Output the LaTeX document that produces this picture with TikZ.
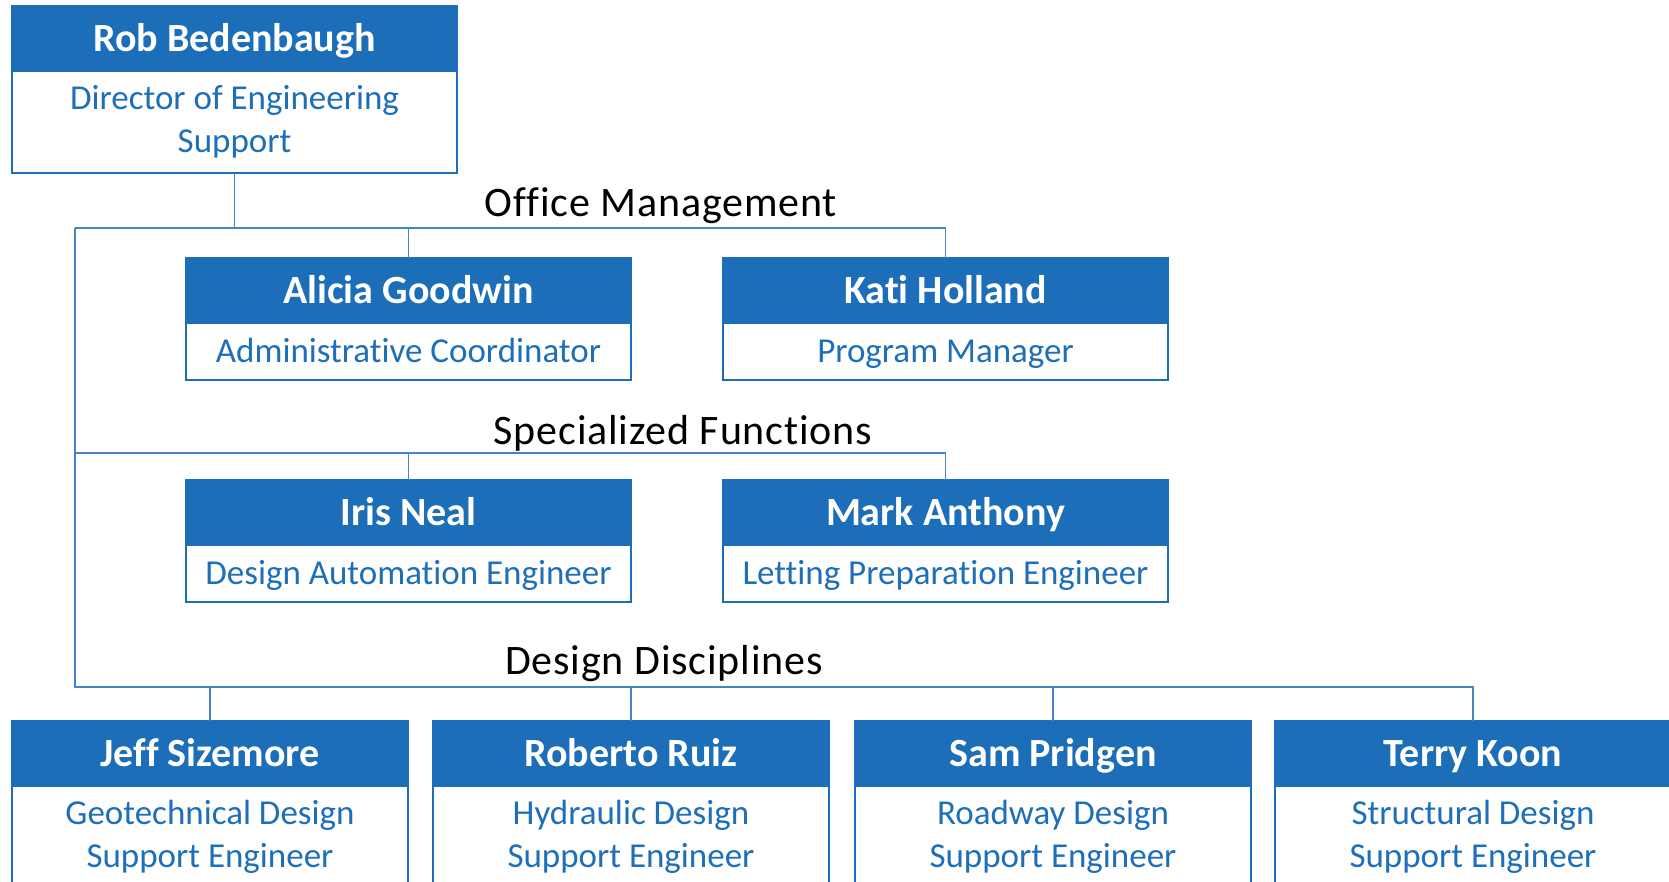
\documentclass[tikz,border=0pt]{standalone}
\usepackage{fontspec}
\setmainfont{Carlito}[Ligatures=NoCommon]
\newfontfamily\grouplabelfont[LetterSpace=2,Ligatures=NoCommon]{Carlito}
\usetikzlibrary{positioning}
\definecolor{headblue}{RGB}{27,110,183}
\definecolor{roleblue}{RGB}{30,111,186}
\definecolor{lineblue}{RGB}{70,132,198}

\begin{document}
\begin{tikzpicture}[x=1pt, y=-1pt,
  namebox/.style={rectangle, draw=headblue, fill=headblue, line width=2pt, text=white,
    font=\fontsize{40}{48}\selectfont\bfseries, minimum width=445pt, minimum height=65pt,
    inner sep=0pt, outer sep=0pt, text height=28pt, text depth=2.2pt},
  rolebox/.style={rectangle, draw=headblue, fill=white, line width=1.6pt, text=roleblue,
    font=\fontsize{35}{42.6}\selectfont, minimum width=445pt, minimum height=57pt,
    inner sep=0pt, outer sep=0pt, align=center},
  oneline/.style={text height=26pt, text depth=3.5pt},
  link/.style={draw=lineblue, line width=1.3pt},
  grouplabel/.style={font=\grouplabelfont\fontsize{42}{50}\selectfont, text=black, inner sep=0pt, anchor=base}]

  \clip (0,0) rectangle (1669,882);
  \useasboundingbox (0,0) rectangle (1669,882);

  % Director
  \node[namebox] (rob-name) at (234.5,38.5) {Rob Bedenbaugh};
  \node[rolebox, minimum height=102pt, below=0pt of rob-name] (rob-role) {Director of Engineering\\Support};

  % Office management
  \foreach \x/\id/\who/\job in {408.5/alicia/Alicia Goodwin/Administrative Coordinator,
                                945.5/kati/Kati Holland/Program Manager} {
    \node[namebox] (\id-name) at (\x,290.5) {\who};
    \node[rolebox, oneline, below=0pt of \id-name] (\id-role) {\job};
  }

  % Specialized functions
  \foreach \x/\id/\who/\job in {408.5/iris/Iris Neal/Design Automation Engineer,
                                945.5/mark/Mark Anthony/Letting Preparation Engineer} {
    \node[namebox] (\id-name) at (\x,512.5) {\who};
    \node[rolebox, oneline, below=0pt of \id-name] (\id-role) {\job};
  }

  % Design disciplines
  \foreach \x/\id/\who/\job in {210/jeff/Jeff Sizemore/Geotechnical Design,
                                631/roberto/Roberto Ruiz/Hydraulic Design,
                                1053/sam/Sam Pridgen/Roadway Design,
                                1473/terry/Terry Koon/Structural Design} {
    \node[namebox, minimum width=396pt] (\id-name) at (\x,753.5) {\who};
    \node[rolebox, minimum width=396pt, minimum height=102pt, below=0pt of \id-name] (\id-role) {\job\\Support Engineer};
  }

  % Group labels
  \node[grouplabel] (office-label) at (661,217) {Office Management};
  \node[grouplabel] (spec-label) at (683,444) {Specialized Functions};
  \node[grouplabel] (design-label) at (664,674) {Design Disciplines};

  % Lines
  \coordinate (office-bus) at (75,228);
  \coordinate (spec-bus) at (75,453);
  \coordinate (design-bus) at (75,687);

  \draw[link] (rob-role.south) -- (rob-role.south |- office-bus);
  \draw[link] (office-bus) -| (kati-name.north);
  \draw[link] (alicia-name.north) -- (alicia-name.north |- office-bus);

  \draw[link] (spec-bus) -| (mark-name.north);
  \draw[link] (iris-name.north) -- (iris-name.north |- spec-bus);

  \draw[link] (office-bus) -- (design-bus) -| (terry-name.north);
  \foreach \id in {jeff,roberto,sam}
    \draw[link] (\id-name.north) -- (\id-name.north |- design-bus);
\end{tikzpicture}
\end{document}
